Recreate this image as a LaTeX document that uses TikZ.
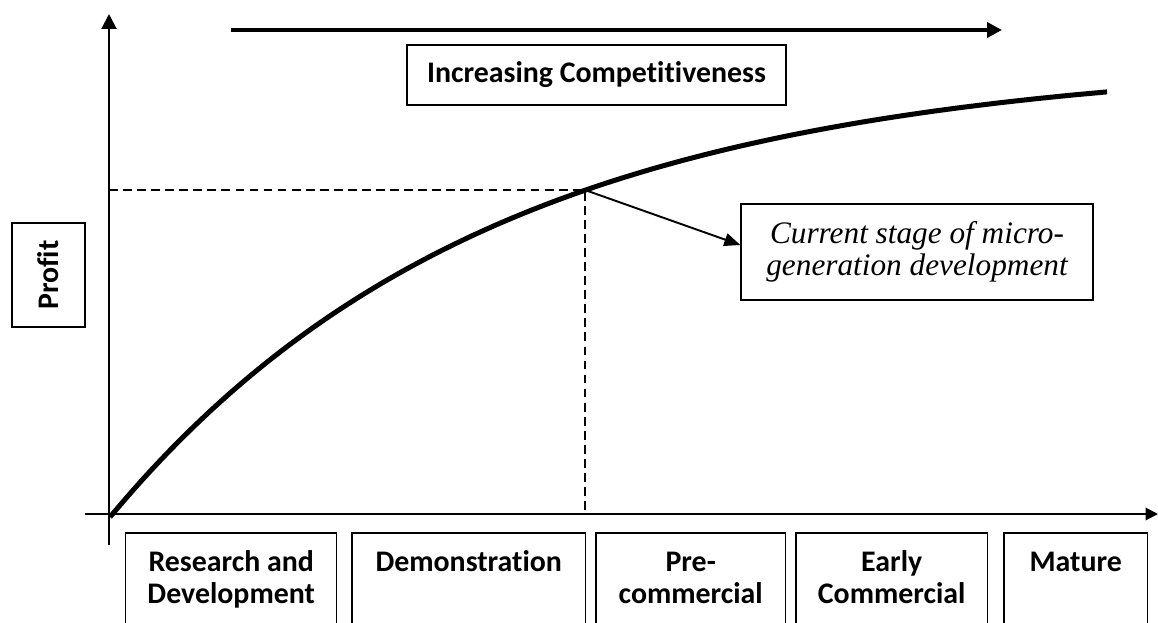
\documentclass[tikz,border=0pt]{standalone}
\usepackage{fontspec}
\setmainfont{Carlito}[Ligatures=NoCommon]
\newfontfamily\timesfont{Liberation Serif}
\usetikzlibrary{arrows.meta}

\begin{document}
\begin{tikzpicture}[x=0.02cm,y=-0.02cm,
    axis/.style={line width=1.1pt},
    tip/.style={-{Triangle[length=0.3cm,width=0.3cm]}},
    box/.style={draw,line width=0.85pt,font=\fontsize{17}{18.2}\selectfont\bfseries},
    stagebox/.style={box,anchor=north west,inner xsep=0pt,inner ysep=0.32cm}]
    \clip (0,0) rectangle (1158,622);
    % axes
    \coordinate (O) at (109,514);
    \coordinate (ybot) at (109,545);
    \coordinate (ytop) at (109,14);
    \coordinate (xleft) at (85,514);
    \coordinate (xright) at (1158,514);
    \draw[axis,tip] (ybot) -- (ytop);
    \draw[axis,-{Triangle[length=0.25cm,width=0.25cm]}] (xleft) -- (xright);
    % competitiveness arrow
    \coordinate (cstart) at (231,30);
    \coordinate (cend) at (1002,30);
    \draw[line width=2.3pt,tip] (cstart) -- (cend);
    \node[box,minimum width=7.58cm,minimum height=1.2cm] (comp) at (596.5,75) {Increasing Competitiveness};
    % profit curve
    \draw[line width=2.85pt] plot[domain=0:997,samples=100] ({110+\x},{517-458.6*(1-exp(-0.002628*\x))});
    \coordinate (cur) at (585,190);
    \coordinate (yd) at (109,190);
    \coordinate (xd) at (585,514);
    \draw[axis,dash pattern=on 5pt off 3pt] (yd) -- (cur) -- (xd);
    \node[box,rotate=90,minimum width=2.08cm,minimum height=1.46cm] (profit) at (48.5,275) {Profit};
    \node[box,font=\fontsize{17.8}{18.2}\selectfont\timesfont\itshape,align=center,minimum width=7.04cm,minimum height=1.92cm] (stage) at (917,252) {Current stage of micro-\\generation development};
    \draw[axis,-{Triangle[length=0.32cm,width=0.26cm]}] (cur) -- ([yshift=0.14cm]stage.west);
    % stages
    \node[stagebox] (rd) at (125,532) {\parbox[t][2cm][t]{4.22cm}{\centering\strut Research and\\ Development}};
    \node[stagebox] (demo) at (351,532) {\parbox[t][2cm][t]{4.68cm}{\centering\strut Demonstration}};
    \node[stagebox] (precom) at (595,532) {\parbox[t][2cm][t]{3.8cm}{\centering\strut Pre-\\ commercial}};
    \node[stagebox] (earlycom) at (795,532) {\parbox[t][2cm][t]{3.84cm}{\centering\strut Early\\ Commercial}};
    \node[stagebox] (mature) at (1003,532) {\parbox[t][2cm][t]{2.88cm}{\centering\strut Mature}};
\end{tikzpicture}
\end{document}
